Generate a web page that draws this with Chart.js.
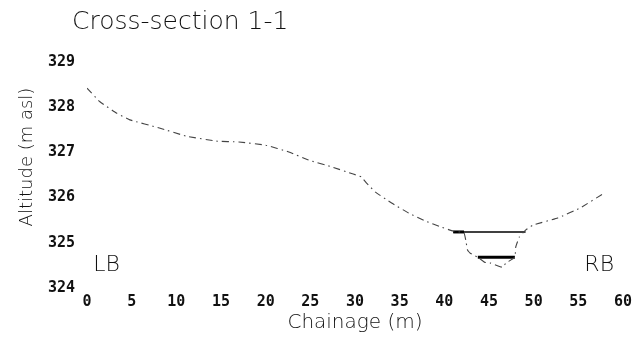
<!DOCTYPE html>
<html>
<head>
<meta charset="utf-8">
<script src="https://cdn.jsdelivr.net/npm/chart.js@4"></script>
<style>
  html, body { margin: 0; padding: 0; background: #fff; }
  #wrap { width: 637px; height: 339px; position: relative; }
</style>
</head>
<body>
<div id="wrap"><canvas id="c" width="637" height="339"></canvas></div>
<script>
// ---- Data ----
const chartTitle = "Cross-section 1-1";
const xAxisTitle = "Chainage (m)";
const yAxisTitle = "Altitude (m asl)";

// Ground profile (chainage m, altitude m asl)
const profileX = [0, 1.45, 3.3, 4.8, 8.1, 11.1, 14.5, 17.0, 20.0, 22.6, 24.8, 27.4, 29.8, 30.7, 31.3, 32.3, 34.1, 36.0, 37.9, 39.6, 41.0, 42.2, 42.4, 42.6, 42.9, 43.75, 44.5, 45.2, 46.5, 46.9, 47.9, 48.0, 48.4, 48.8, 49.1, 49.9, 52.7, 55.2, 57.9];
const profileY = [328.42, 328.12, 327.87, 327.72, 327.54, 327.36, 327.25, 327.23, 327.16, 327.01, 326.83, 326.68, 326.52, 326.46, 326.32, 326.12, 325.88, 325.66, 325.48, 325.35, 325.26, 325.22, 325.06, 324.84, 324.77, 324.68, 324.57, 324.55, 324.46, 324.55, 324.68, 324.91, 325.13, 325.22, 325.28, 325.39, 325.55, 325.77, 326.10];

// Upper water surface
const waterX = [41.0, 49.1];
const waterY = [325.24, 325.24];
// Thick left end of the upper water line
const waterEndX = [41.0, 42.2];
const waterEndY = [325.24, 325.24];
// Lower (low-flow) water line
const lowWaterX = [43.75, 47.9];
const lowWaterY = [324.68, 324.68];

// Axis ticks
const xTicks = [0, 5, 10, 15, 20, 25, 30, 35, 40, 45, 50, 55, 60];
const yTicks = [324, 325, 326, 327, 328, 329];

// Bank labels (text, chainage, altitude)
const bankLabels = ["LB", "RB"];
const bankLabelX = [0.7, 59.0];
const bankLabelY = [324.51, 324.51];

const pts = (xs, ys) => xs.map((x, i) => ({ x: x, y: ys[i] }));
const lightFont = '"DejaVu Sans"';

const textPlugin = {
  id: 'extraText',
  afterDraw(chart) {
    const ctx = chart.ctx;
    const xs = chart.scales.x, ys = chart.scales.y;
    ctx.save();
    ctx.fillStyle = '#111';
    // Chart title
    ctx.font = '200 25px ' + lightFont;
    ctx.textAlign = 'left';
    ctx.textBaseline = 'middle';
    ctx.fillText(chartTitle, 72, 22);
    // Y axis title
    ctx.save();
    ctx.translate(27, 157);
    ctx.rotate(-Math.PI / 2);
    ctx.textAlign = 'center';
    ctx.font = '200 18px ' + lightFont;
    ctx.fillText(yAxisTitle, 0, 0);
    ctx.restore();
    // Bank labels
    ctx.font = '200 22px ' + lightFont;
    bankLabels.forEach((t, i) => {
      ctx.textAlign = i === 0 ? 'left' : 'right';
      ctx.fillText(t, xs.getPixelForValue(bankLabelX[i]), ys.getPixelForValue(bankLabelY[i]));
    });
    ctx.restore();
  }
};

new Chart(document.getElementById('c'), {
  type: 'line',
  data: {
    datasets: [
      {
        data: pts(profileX, profileY),
        borderColor: '#444',
        borderWidth: 1.1,
        borderDash: [7, 4, 1.5, 4],
        pointRadius: 0,
        tension: 0.1,
        fill: false
      },
      {
        data: pts(waterX, waterY),
        borderColor: '#000',
        borderWidth: 1.6,
        pointRadius: 0,
        fill: false
      },
      {
        data: pts(waterEndX, waterEndY),
        borderColor: '#000',
        borderWidth: 3,
        pointRadius: 0,
        fill: false
      },
      {
        data: pts(lowWaterX, lowWaterY),
        borderColor: '#000',
        borderWidth: 3,
        pointRadius: 0,
        fill: false
      }
    ]
  },
  options: {
    responsive: false,
    animation: false,
    layout: { padding: { left: 0, right: 11, top: 62, bottom: 0 } },
    plugins: {
      legend: { display: false },
      title: { display: false },
      tooltip: { enabled: false }
    },
    scales: {
      x: {
        type: 'linear',
        min: 0, max: 60,
        grid: { display: false, drawTicks: false },
        border: { display: false },
        afterBuildTicks: (s) => { s.ticks = xTicks.map(v => ({ value: v })); },
        afterFit: (s) => { s.height = 51; },
        ticks: {
          padding: 5,
          maxRotation: 0,
          autoSkip: false,
          color: '#111',
          font: { family: 'DejaVu Sans Mono', size: 15, weight: 'bold' }
        },
        title: {
          display: true,
          text: xAxisTitle,
          color: '#111',
          padding: { top: 0, bottom: 4 },
          font: { family: 'DejaVu Sans', size: 20, weight: '200' }
        }
      },
      y: {
        type: 'linear',
        min: 324, max: 329,
        grid: { display: false, drawTicks: false },
        border: { display: false },
        afterBuildTicks: (s) => { s.ticks = yTicks.map(v => ({ value: v })); },
        afterFit: (s) => { s.width = 87; },
        ticks: {
          padding: 12,
          color: '#111',
          font: { family: 'DejaVu Sans Mono', size: 15, weight: 'bold' }
        }
      }
    }
  },
  plugins: [textPlugin]
});
</script>
</body>
</html>
